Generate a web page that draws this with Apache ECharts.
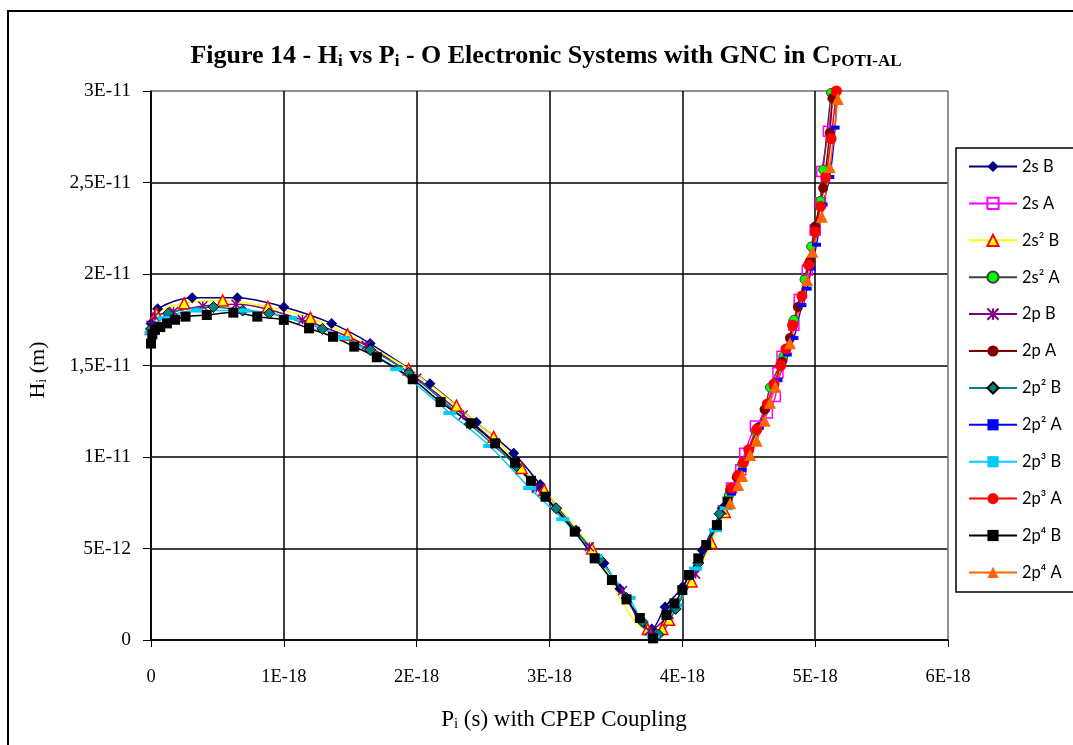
<!DOCTYPE html>
<html>
<head>
<meta charset="utf-8">
<script src="https://cdn.jsdelivr.net/npm/echarts@6/dist/echarts.min.js"></script>
<style>
html,body{margin:0;padding:0;background:#fff;}
#chart{width:1073px;height:745px;}
</style>
</head>
<body>
<div id="chart"></div>
<script>
// Units: x in 1E-18 s, y in 1E-12 m
var xTickLabels = ['0','1E-18','2E-18','3E-18','4E-18','5E-18','6E-18'];
var yTickLabels = ['0','5E-12','1E-11','1,5E-11','2E-11','2,5E-11','3E-11'];
var seriesNames = ['2s B','2s A','2s\u00b2 B','2s\u00b2 A','2p B','2p A','2p\u00b2 B','2p\u00b2 A','2p\u00b3 B','2p\u00b3 A','2p\u2074 B','2p\u2074 A'];

var s2sB = [[0,17.3],[0.05,18.1],[0.31,18.7],[0.65,18.7],[1.0,18.2],[1.36,17.3],[1.65,16.2],[2.1,14.0],[2.45,11.9],[2.73,10.2],[2.93,8.5],[3.2,6.0],[3.41,4.2],[3.53,2.8],[3.77,0.6],[3.87,1.8],[4.0,2.9],[4.15,4.9],[4.3,7.2]];
var s2sA = [[4.37,8.3],[4.44,9.3],[4.47,10.2],[4.55,11.7],[4.64,12.4],[4.70,13.3],[4.72,14.6],[4.75,15.5],[4.84,17.2],[4.88,18.6],[4.94,20.2],[5.0,22.4],[5.04,23.9],[5.05,25.6],[5.10,27.8],[5.15,31.0]];
var s2s2B = [[0,17.0],[0.04,17.85],[0.25,18.4],[0.54,18.55],[0.88,18.2],[1.2,17.6],[1.48,16.7],[1.94,14.8],[2.30,12.8],[2.58,11.1],[2.79,9.4],[2.96,8.2],[3.32,5.0],[3.74,0.6],[3.85,0.6],[3.9,1.1],[4.07,3.2],[4.22,5.3],[4.32,7.0]];
var s2s2A = [[4.35,7.9],[4.45,9.6],[4.55,11.4],[4.62,12.6],[4.66,13.8],[4.76,15.5],[4.84,17.5],[4.92,19.7],[4.97,21.5],[5.04,24.0],[5.06,25.7],[5.12,29.9]];
var s2pB = [[0,17.2],[0.03,17.7],[0.17,17.95],[0.39,18.25],[0.64,18.35],[1.14,17.5],[1.62,16.1],[2.0,14.3],[2.35,12.3],[2.6,10.7],[2.9,8.3],[3.3,5.1],[3.55,2.7],[3.75,0.5],[3.9,1.4],[4.1,3.6],[4.3,7.1]];
var s2pA = [[4.36,8.2],[4.41,8.9],[4.5,10.4],[4.57,11.6],[4.62,12.6],[4.69,13.9],[4.75,15.2],[4.81,16.5],[4.87,18.2],[4.96,20.7],[5.0,22.6],[5.06,24.7],[5.11,27.7],[5.13,29.6]];
var s2p2B = [[0,17.0],[0.13,17.85],[0.47,18.2],[0.69,18.0],[0.89,17.85],[1.29,17.0],[1.65,15.85],[1.94,14.6],[2.4,11.8],[2.75,9.5],[3.05,7.2],[3.38,4.4],[3.58,2.3],[3.7,1.0],[3.82,0.3],[3.95,1.7],[4.12,4.2],[4.28,6.9]];
var s2p2A = [[4.37,8.0],[4.45,9.3],[4.51,9.9],[4.58,11.6],[4.65,12.9],[4.72,14.2],[4.79,15.6],[4.84,16.5],[4.90,18.3],[4.94,19.2],[4.97,20.3],[5.01,21.6],[5.06,23.8],[5.11,25.3],[5.15,28.0],[5.17,31.0]];
var s2p3B = [[0,16.8],[0.1,17.6],[0.35,18.0],[0.7,18.0],[1.05,17.6],[1.45,16.5],[1.85,14.8],[2.25,12.4],[2.55,10.6],[2.85,8.3],[3.1,6.6],[3.35,4.6],[3.6,2.3],[3.78,0.2],[3.95,1.9],[4.1,3.9],[4.25,6.0],[4.33,7.2]];
var s2p3A = [[4.37,8.3],[4.42,9.0],[4.46,9.7],[4.50,10.4],[4.56,11.5],[4.64,12.9],[4.69,14.0],[4.74,15.0],[4.78,15.9],[4.83,17.2],[4.90,18.8],[4.95,20.5],[5.0,22.3],[5.04,23.7],[5.08,25.3],[5.12,27.4],[5.16,30.0]];
var s2p4B = [[0,16.2],[0.01,16.7],[0.03,16.95],[0.07,17.1],[0.12,17.3],[0.18,17.5],[0.26,17.67],[0.42,17.76],[0.62,17.89],[0.8,17.67],[1.0,17.49],[1.19,17.03],[1.37,16.57],[1.53,16.03],[1.70,15.45],[1.97,14.25],[2.18,13.0],[2.41,11.84],[2.59,10.75],[2.74,9.69],[2.86,8.7],[2.97,7.83],[3.19,5.92],[3.34,4.46],[3.47,3.28],[3.58,2.22],[3.68,1.2],[3.78,0.09],[3.88,1.37],[3.94,2.0],[4.0,2.73],[4.05,3.55],[4.12,4.46],[4.18,5.19],[4.26,6.28],[4.34,7.56]];
var s2p4A = [[4.36,7.47],[4.42,8.47],[4.45,8.96],[4.51,10.11],[4.56,10.89],[4.62,11.98],[4.66,12.97],[4.70,13.84],[4.81,16.21],[4.94,19.67],[4.98,21.22],[5.05,23.13],[5.11,25.83],[5.17,29.56],[5.19,31.5]];

var seriesData = [s2sB,s2sA,s2s2B,s2s2A,s2pB,s2pA,s2p2B,s2p2A,s2p3B,s2p3A,s2p4B,s2p4A];

var styles = [
  {line:'#000080', symbol:'diamond', size:11, fill:'#000080', stroke:'#000080', bw:0},
  {line:'#FF00FF', symbol:'rect', size:10, fill:'rgba(0,0,0,0)', stroke:'#FF00FF', bw:1.5},
  {line:'#FFFF00', symbol:'triangle', size:11, fill:'#FFFF00', stroke:'#FF0000', bw:1.5},
  {line:'#404040', symbol:'circle', size:9, fill:'#00FF00', stroke:'#404040', bw:1},
  {line:'#800080', symbol:'path://M0,0L10,10M10,0L0,10M5,0L5,10', size:9, fill:'rgba(0,0,0,0)', stroke:'#800080', bw:1.5},
  {line:'#800000', symbol:'circle', size:10, fill:'#800000', stroke:'#800000', bw:0},
  {line:'#008080', symbol:'diamond', size:11, fill:'#008080', stroke:'#000000', bw:1},
  {line:'#0000FF', symbol:'rect', size:[9,4], fill:'#0000FF', stroke:'#0000FF', bw:0},
  {line:'#00CCFF', symbol:'rect', size:[13,4], fill:'#00CCFF', stroke:'#00CCFF', bw:0},
  {line:'#FF0000', symbol:'circle', size:11, fill:'#FF0000', stroke:'#FF0000', bw:0},
  {line:'#000000', symbol:'rect', size:10, fill:'#000000', stroke:'#000000', bw:0},
  {line:'#FF6600', symbol:'triangle', size:12, fill:'#FF6600', stroke:'#FF6600', bw:0}
];

var series = seriesNames.map(function(n,i){
  var s = styles[i];
  return {
    name:n, type:'line', data:seriesData[i], smooth:0.3, clip:true,
    symbol:s.symbol, symbolSize:s.size, showAllSymbol:true,
    lineStyle:{color:s.line, width:1.5},
    itemStyle:{color:s.fill, borderColor:s.stroke, borderWidth:s.bw},
    emphasis:{disabled:true}, animation:false
  };
});

var serif = '"Liberation Serif","Times New Roman",serif';
var chart = echarts.init(document.getElementById('chart'), null, {renderer:'canvas'});
chart.setOption({
  backgroundColor:'#fff',
  animation:false,
  grid:{left:151, top:91, right:125, bottom:105, show:true, borderColor:'#808080', borderWidth:1, containLabel:false},
  xAxis:{
    type:'value', min:0, max:6, interval:1,
    axisLine:{show:true, onZero:false, lineStyle:{color:'#000', width:1.5}},
    axisTick:{show:true, length:7, lineStyle:{color:'#000'}},
    axisLabel:{margin:28, fontFamily:serif, fontSize:18.5, color:'#000',
      formatter:function(v){return xTickLabels[Math.round(v)];}},
    splitLine:{show:true, lineStyle:{color:['#000','#000','#000','#000','#000','#000','#808080'], width:1.5}}
  },
  yAxis:{
    type:'value', min:0, max:30, interval:5,
    axisLine:{show:true, onZero:false, lineStyle:{color:'#000', width:1.5}},
    axisTick:{show:true, length:8, lineStyle:{color:'#000'}},
    axisLabel:{margin:20, fontFamily:serif, fontSize:19.5, color:'#000',
      formatter:function(v){return yTickLabels[Math.round(v/5)];}},
    splitLine:{show:true, lineStyle:{color:['#000','#000','#000','#000','#000','#000','#808080'], width:1.5}}
  },
  legend:{
    orient:'vertical', left:956, top:148,
    padding:[10,70,11,12],
    itemWidth:48, itemHeight:14, itemGap:19.9,
    borderColor:'#000', borderWidth:1.5,
    textStyle:{fontFamily:'Lato,"Open Sans",sans-serif', fontSize:16.5, color:'#000'},
    data:seriesNames
  },
  graphic:[
    {type:'rect', shape:{x:8, y:11, width:1200, height:900}, style:{fill:'none', stroke:'#000', lineWidth:2}, silent:true, z:100},
    {type:'text', x:546, y:56, style:{
      text:'{b|Figure 14 - H}{s|i}{b| vs P}{s|i}{b| - O Electronic Systems with GNC in C}{s|POTI-AL}',
      align:'center', verticalAlign:'middle',
      rich:{
        b:{fontFamily:serif, fontWeight:'bold', fontSize:26, color:'#000'},
        s:{fontFamily:serif, fontWeight:'bold', fontSize:17, color:'#000', padding:[12,0,0,0]}
      }
    }},
    {type:'text', x:38, y:370, rotation:Math.PI/2, style:{
      text:'{b|H}{s|i}{b| (m)}', align:'center', verticalAlign:'middle',
      rich:{
        b:{fontFamily:serif, fontSize:22, color:'#000'},
        s:{fontFamily:serif, fontSize:14, color:'#000', padding:[9,0,0,0]}
      }
    }},
    {type:'text', x:564, y:720, style:{
      text:'{b|P}{s|i}{b| (s) with CPEP Coupling}', align:'center', verticalAlign:'middle',
      rich:{
        b:{fontFamily:serif, fontSize:23, color:'#000'},
        s:{fontFamily:serif, fontSize:15, color:'#000', padding:[9,0,0,0]}
      }
    }}
  ],
  series:series
});
</script>
</body>
</html>
